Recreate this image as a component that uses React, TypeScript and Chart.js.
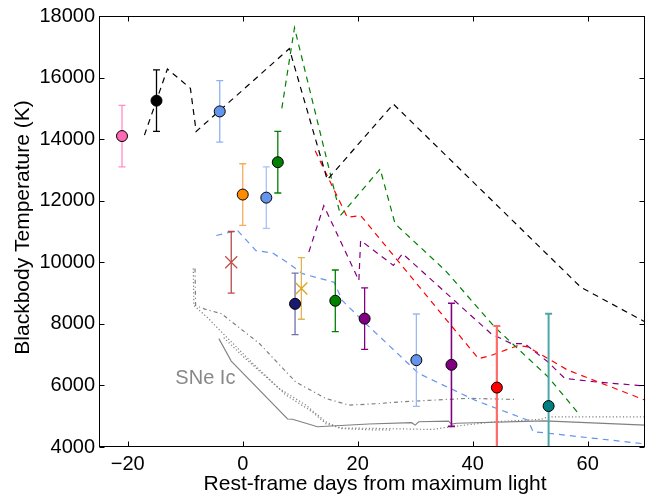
import { useEffect, useRef } from 'react';
import { Chart, registerables } from 'chart.js';

Chart.register(...registerables);

const FONT = '"Liberation Sans", Arial, Helvetica, sans-serif';

// ---- axes ----
const xTickValues = [-20, 0, 20, 40, 60];
const yTickValues = [4000, 6000, 8000, 10000, 12000, 14000, 16000, 18000];
const xTitle = 'Rest-frame days from maximum light';
const yTitle = 'Blackbody Temperature (K)';

// ---- observed temperatures ----
const obsDays = [-21, -15, -4, 0, 4.1, 6.1, -2, 9.1, 10.2, 16.1, 21.2, 30.2, 36.3, 44.2, 53.2];
const obsTemps = [14100, 15250, 14900, 12200, 12100, 13250, 10000, 8650, 9150, 8750, 8170, 6820, 6670, 5930, 5330];
const obsErrs = [1000, 1000, 1000, 1000, 1000, 1000, 1000, 1000, 1000, 1000, 1000, 1500, 2000, 2000, 3000];

// ---- model / comparison curves ----
const blackDays = [-17.1, -13.1, -9.1, -8.1, 8.1, 14.7, 26.2, 58.8, 70];
const blackTemps = [14130, 16280, 15650, 14250, 16940, 12680, 15140, 9190, 8060];

const greenDays = [6.8, 9.0, 17.0, 23.9, 26.5, 35.2, 43.8, 53.1, 58.3];
const greenTemps = [15000, 17620, 11520, 13030, 11250, 9740, 7900, 6280, 5110];

const redDays = [12.6, 18.2, 20.5, 35.5, 41.0, 43.3, 47.9, 49.6, 53.1, 56.5, 70];
const redTemps = [13620, 11460, 11520, 8115, 6870, 6980, 7300, 7250, 6870, 6500, 5520];

const purpleDays = [11.5, 14.1, 20.2, 20.5, 26.2, 27.8, 43.2, 46.7, 49.0, 53.1, 56.0, 61.1, 70];
const purpleTemps = [10330, 11840, 9410, 10710, 9900, 10280, 7680, 7360, 7360, 6760, 6230, 6120, 5980];

const blueDays = [-4.6, -0.9, 2.3, 5.2, 8.1, 10.4, 15.9, 17.3, 20.8, 30.6, 40.4, 49.6, 50.5, 70];
const blueTemps = [10870, 11030, 10380, 10300, 9950, 9630, 9350, 8760, 8115, 6390, 5520, 4870, 4500, 4100];

// SNe Ic comparison (grey)
const icSolidDays = [-4.15, -2.0, 7.8, 8.65, 13.0, 21.9, 29.4, 30.0, 30.6, 35.8, 36.3, 37.2, 52.5, 70];
const icSolidTemps = [7520, 6790, 4910, 4900, 4660, 4745, 4790, 4710, 4820, 4840, 4745, 4770, 4850, 4710];

const icDotADays = [-8.6, -8.5, -6.0, -4.3, -2.6, -0.9, 2.0, 7.5, 12.1, 14.5, 17.0, 24.0, 33.0, 36.3, 43.8, 51.9, 53.1, 70];
const icDotATemps = [9800, 8600, 8180, 7850, 7530, 7210, 6670, 5690, 5140, 4750, 4620, 4600, 4570, 4660, 4820, 4900, 4980, 4980];

const icDotBDays = [-3.3, 0.0, 6.35, 11.0, 14.4, 17.0, 22.0, 26.0];
const icDotBTemps = [7550, 6950, 5900, 5360, 4820, 4600, 4560, 4550];

const icDashDotDays = [-8.3, -8.2, -6.6, -3.7, 2.9, 9.2, 14.4, 18.5, 23.6, 27.7, 39.2, 47.3];
const icDashDotTemps = [9800, 8600, 8480, 8330, 7360, 6115, 5580, 5360, 5410, 5470, 5580, 5545];

const icLabel = 'SNe Ic';
const icLabelDay = -6.5;
const icLabelTemp = 6240;

// ---- styles (kept apart from the data) ----
const obsFill = ['#ff69b4', '#000000', '#6495ed', '#ff8c00', '#6495ed', '#008000', '#c0504d', '#191970', '#daa520', '#008000', '#800080', '#6495ed', '#800080', '#ff0000', '#008080'];
const obsBarColor = ['#ff8cc6', '#000000', '#8fb1f2', '#f5ad5c', '#a9c3f4', '#008000', '#b84a4a', '#7070ae', '#e1b44f', '#008000', '#800080', '#9ab8f2', '#800080', '#ff6a6a', '#4ca6a6'];
const obsBarWidth = [1.3, 1.3, 1.3, 1.3, 1.3, 1.3, 1.3, 1.3, 1.3, 1.3, 1.3, 1.3, 1.6, 2.2, 2.0];
const obsShape = ['circle', 'circle', 'circle', 'circle', 'circle', 'circle', 'crossRot', 'circle', 'crossRot', 'circle', 'circle', 'circle', 'circle', 'circle', 'circle'];

const toXY = (xs: number[], ys: number[]) => xs.map((x, i) => ({ x, y: ys[i] }));

function curve(xs: number[], ys: number[], color: string, dash: number[], width: number) {
  return {
    type: 'line' as const,
    data: toXY(xs, ys),
    borderColor: color,
    borderWidth: width,
    borderDash: dash,
    pointRadius: 0,
    fill: false,
    tension: 0,
    showLine: true,
  };
}

const errorBarPlugin = {
  id: 'errorBars',
  beforeDatasetDraw(chart: any, args: any) {
    if (args.index !== 0) return;
    const { ctx, chartArea: a } = chart;
    const xs = chart.scales.x;
    const ys = chart.scales.y;
    ctx.save();
    ctx.beginPath();
    ctx.rect(a.left, a.top, a.right - a.left, a.bottom - a.top);
    ctx.clip();
    obsDays.forEach((d, i) => {
      const px = xs.getPixelForValue(d);
      const top = ys.getPixelForValue(obsTemps[i] + obsErrs[i]);
      const bot = ys.getPixelForValue(obsTemps[i] - obsErrs[i]);
      ctx.strokeStyle = obsBarColor[i];
      ctx.lineWidth = obsBarWidth[i];
      ctx.beginPath();
      ctx.moveTo(px, top);
      ctx.lineTo(px, bot);
      ctx.moveTo(px - 3.5, top);
      ctx.lineTo(px + 3.5, top);
      ctx.moveTo(px - 3.5, bot);
      ctx.lineTo(px + 3.5, bot);
      ctx.stroke();
    });
    ctx.restore();
  },
};

const framePlugin = {
  id: 'frame',
  afterDatasetsDraw(chart: any) {
    const { ctx, chartArea: a } = chart;
    const xs = chart.scales.x;
    const ys = chart.scales.y;
    const L = Math.round(a.left) + 0.5;
    const R = Math.round(a.right) - 0.5;
    const T = Math.round(a.top) + 0.5;
    const B = Math.round(a.bottom) - 0.5;
    ctx.save();
    ctx.strokeStyle = '#000';
    ctx.lineWidth = 1;
    ctx.strokeRect(L, T, R - L, B - T);
    ctx.beginPath();
    const tl = 5;
    xTickValues.forEach((v) => {
      const p = Math.round(xs.getPixelForValue(v)) + 0.5;
      ctx.moveTo(p, B);
      ctx.lineTo(p, B - tl);
      ctx.moveTo(p, T);
      ctx.lineTo(p, T + tl);
    });
    yTickValues.forEach((v) => {
      const p = Math.round(ys.getPixelForValue(v)) + 0.5;
      ctx.moveTo(L, p);
      ctx.lineTo(L + tl, p);
      ctx.moveTo(R, p);
      ctx.lineTo(R - tl, p);
    });
    ctx.stroke();

    // annotation
    ctx.fillStyle = '#888888';
    ctx.font = `20px ${FONT}`;
    ctx.textAlign = 'center';
    ctx.textBaseline = 'middle';
    ctx.fillText(icLabel, xs.getPixelForValue(icLabelDay), ys.getPixelForValue(icLabelTemp));

    // axis titles
    ctx.fillStyle = '#000';
    ctx.font = `21px ${FONT}`;
    ctx.textAlign = 'center';
    ctx.textBaseline = 'alphabetic';
    ctx.fillText(xTitle, (a.left + a.right) / 2 + 3, 490);
    ctx.save();
    ctx.translate(23, (a.top + a.bottom) / 2 - 4);
    ctx.rotate(-Math.PI / 2);
    ctx.textBaseline = 'middle';
    ctx.fillText(yTitle, 0, 0);
    ctx.restore();
    ctx.restore();
  },
};

export default function App() {
  const ref = useRef<HTMLCanvasElement | null>(null);

  useEffect(() => {
    if (!ref.current) return;
    const chart = new Chart(ref.current, {
      type: 'scatter',
      data: {
        datasets: [
          {
            type: 'scatter',
            data: toXY(obsDays, obsTemps),
            pointStyle: obsShape as any,
            pointRadius: obsShape.map((s) => (s === 'circle' ? 5.5 : 8.5)),
            pointBackgroundColor: obsFill,
            pointBorderColor: obsShape.map((s, i) => (s === 'circle' ? '#000' : obsFill[i])),
            pointBorderWidth: obsShape.map((s) => (s === 'circle' ? 1 : 1.3)),
            showLine: false,
          } as any,
          curve(blackDays, blackTemps, '#000000', [6, 5], 1.2),
          curve(greenDays, greenTemps, '#008000', [6, 5], 1.2),
          curve(redDays, redTemps, '#ff0000', [6, 5], 1.2),
          curve(purpleDays, purpleTemps, '#800080', [6, 5], 1.2),
          curve(blueDays, blueTemps, '#6495ed', [6, 5], 1.2),
          curve(icSolidDays, icSolidTemps, '#808080', [], 1.1),
          curve(icDotADays, icDotATemps, '#808080', [1.2, 2.2], 1.2),
          curve(icDotBDays, icDotBTemps, '#808080', [1.2, 2.2], 1.2),
          curve(icDashDotDays, icDashDotTemps, '#808080', [4, 3, 1.2, 3], 1.2),
        ] as any,
      },
      options: {
        animation: false,
        responsive: false,
        devicePixelRatio: 1,
        layout: { padding: { top: 15, right: 6, left: 0, bottom: 0 } },
        plugins: { legend: { display: false }, tooltip: { enabled: false } },
        scales: {
          x: {
            type: 'linear',
            min: -25,
            max: 70,
            grid: { display: false, drawTicks: false },
            border: { display: false },
            afterBuildTicks: (s: any) => {
              s.ticks = xTickValues.map((v) => ({ value: v }));
            },
            afterFit: (s: any) => {
              s.height = 48;
            },
            ticks: {
              color: '#000',
              font: { family: FONT, size: 20 },
              padding: 5,
              maxRotation: 0,
              callback: (v: any) => String(v).replace('-', '\u2212'),
            },
          },
          y: {
            type: 'linear',
            min: 4000,
            max: 18000,
            grid: { display: false, drawTicks: false },
            border: { display: false },
            afterBuildTicks: (s: any) => {
              s.ticks = yTickValues.map((v) => ({ value: v }));
            },
            afterFit: (s: any) => {
              s.width = 99;
            },
            ticks: {
              color: '#000',
              font: { family: FONT, size: 20 },
              padding: 4,
              callback: (v: any) => String(v),
            },
          },
        },
      } as any,
      plugins: [errorBarPlugin, framePlugin],
    });
    return () => chart.destroy();
  }, []);

  return (
    <div style={{ position: 'fixed', left: 0, top: 0, width: 655, height: 495, background: '#fff' }}>
      <canvas ref={ref} width={655} height={495} style={{ display: 'block', width: 655, height: 495 }} />
    </div>
  );
}
